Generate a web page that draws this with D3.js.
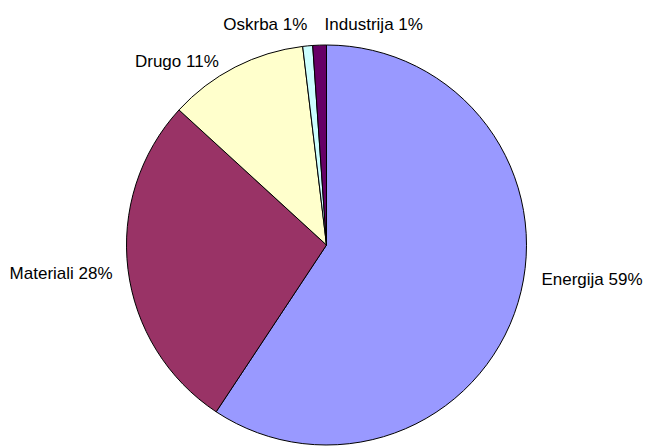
<!DOCTYPE html>
<html>
<head>
<meta charset="utf-8">
<script src="https://cdn.jsdelivr.net/npm/d3@7/dist/d3.min.js"></script>
<style>
  body { margin: 0; background: #fff; }
  svg { display: block; }
  text { font-family: "Liberation Sans", Arial, sans-serif; font-size: 17px; fill: #000; }
</style>
</head>
<body>
<svg id="chart" width="647" height="446"></svg>
<script>
/* global d3 */
var categories = ["Energija", "Materiali", "Drugo", "Oskrba", "Industrija"],
  values = [59.3, 27.5, 11.3, 0.8, 1.1],
  labels = ["Energija 59%", "Materiali 28%", "Drugo 11%", "Oskrba 1%", "Industrija 1%"],
  colors = ["#9999ff", "#993366", "#ffffcc", "#ccffff", "#660066"];

// label nudges (Excel places its labels a bit irregularly)
var nudge = [[10, -21.5], [-1.5, 8], [-10, 12], [1, -2], [5.5, -1]];

var svg = d3.select("#chart"),
  cx = 326.5,
  cy = 245,
  r = 200;

var data = categories.map(function (c, i) {
  return { name: c, value: values[i], label: labels[i], color: colors[i], i: i };
});

var pie = d3.pie().sort(null).value(function (d) { return d.value; });
var arc = d3.arc().innerRadius(0).outerRadius(r);
var labelArc = d3.arc().innerRadius(r + 14).outerRadius(r + 14);

var g = svg.append("g").attr("transform", "translate(" + cx + "," + cy + ")");
var arcs = pie(data);

g.selectAll("path")
  .data(arcs)
  .enter().append("path")
  .attr("d", arc)
  .attr("fill", function (d) { return d.data.color; })
  .attr("stroke", "#000")
  .attr("stroke-width", 1)
  .attr("stroke-linejoin", "round");

g.selectAll("text")
  .data(arcs)
  .enter().append("text")
  .attr("x", function (d) { return labelArc.centroid(d)[0] + nudge[d.data.i][0]; })
  .attr("y", function (d) { return labelArc.centroid(d)[1] + nudge[d.data.i][1]; })
  .attr("text-anchor", function (d) {
    var mid = (d.startAngle + d.endAngle) / 2;
    return (mid < Math.PI || d.data.name == "Industrija") ? "start" : "end";
  })
  .text(function (d) { return d.data.label; });
</script>
</body>
</html>
